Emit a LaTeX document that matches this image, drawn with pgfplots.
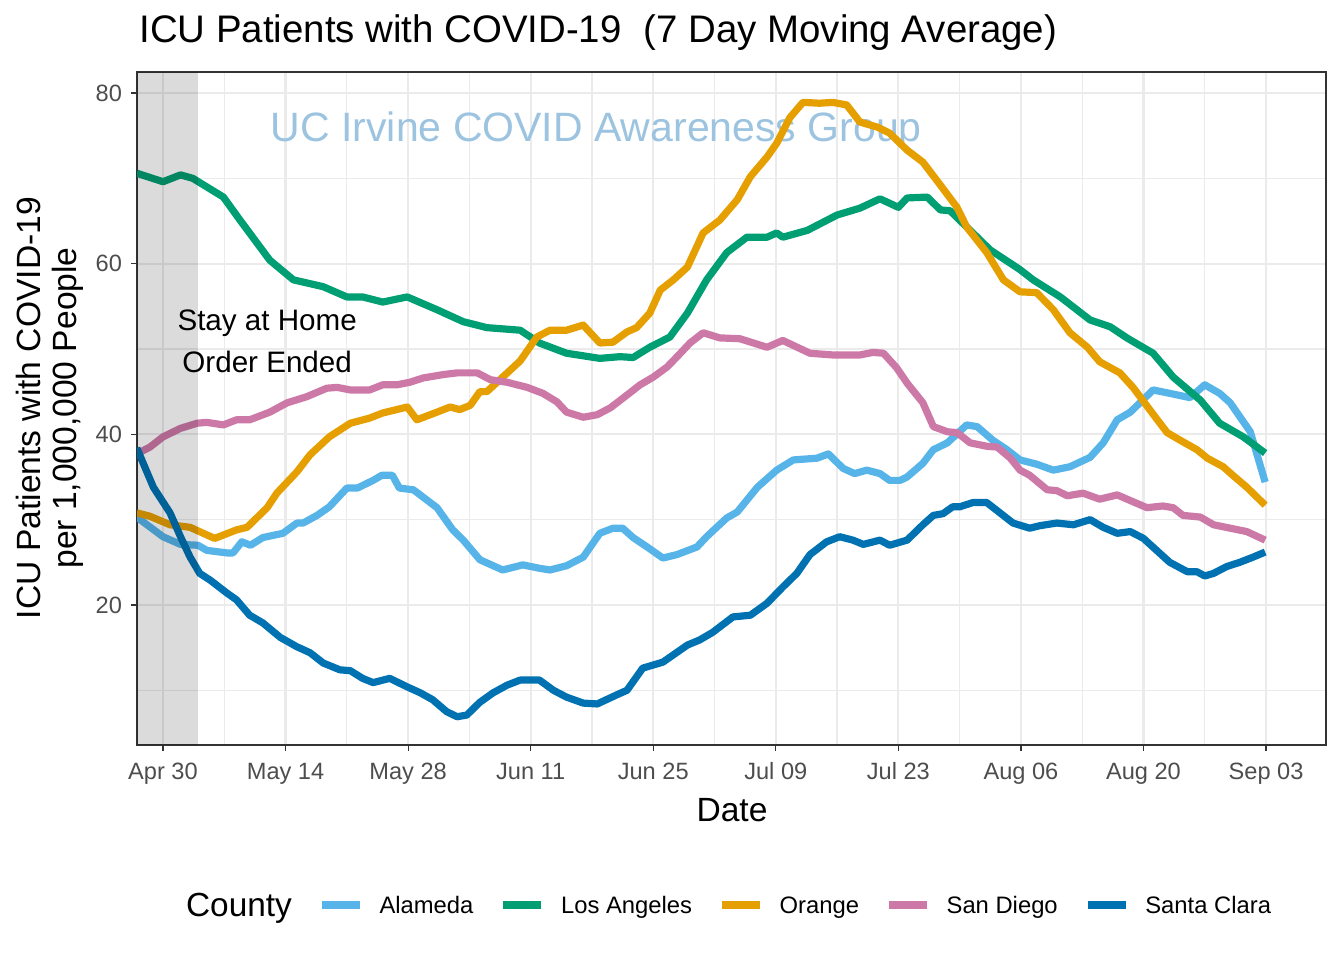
\documentclass[border=0pt]{standalone}
\usepackage{fontspec}
\setmainfont{Liberation Sans}
\usepackage{pgfplots}
\pgfplotsset{compat=1.18}
\definecolor{cAla}{HTML}{56B4E9}
\definecolor{cLA}{HTML}{009E73}
\definecolor{cOra}{HTML}{E69F00}
\definecolor{cSD}{HTML}{CC79A7}
\definecolor{cSC}{HTML}{0072B2}
\definecolor{gridc}{HTML}{EBEBEB}
\definecolor{tickc}{HTML}{4D4D4D}
\definecolor{borderc}{HTML}{333333}
\definecolor{wmark}{HTML}{9CC3DF}
\begin{document}
\begin{tikzpicture}
\path[use as bounding box] (0,0) rectangle (672pt,480pt);
\begin{axis}[
  at={(68.5pt,107.5pt)}, anchor=south west,
  scale only axis, width=594.5pt, height=336.5pt,
  xmin=-2.97, xmax=132.85, ymin=3.59, ymax=82.46,
  xtick={0,14,...,126},
  xticklabels={Apr 30,May 14,May 28,Jun 11,Jun 25,Jul 09,Jul 23,Aug 06,Aug 20,Sep 03},
  minor xtick={7,21,...,119},
  ytick={20,40,60,80},
  minor ytick={10,30,50,70},
  grid=both,
  major grid style={gridc, line width=1.1pt},
  minor grid style={gridc, line width=0.6pt},
  axis line style={borderc, line width=0.6pt},
  tick align=outside,
  major tick length=3pt, minor tick length=0pt,
  tick style={borderc, line width=0.6pt},
  xtick pos=bottom, ytick pos=left,
  /pgf/number format/assume math mode=true,
  ticklabel style={font=\fontsize{11.8}{14}\selectfont, text=tickc},
  xticklabel style={yshift=-3.5pt, text height=0.72em, text depth=0.2em},
  yticklabel style={xshift=-1pt},
  legend columns=6,
  legend style={at={(0.4925,-0.2422)}, anchor=center, draw=none, fill=none,
    font=\fontsize{11.9}{14}\selectfont,
    nodes={text height=0.75em, text depth=0.22em},
    /tikz/every odd column/.append style={column sep=6pt},
    /tikz/every even column/.append style={column sep=11.2pt}},
  legend image code/.code={\draw[#1] (0pt,1.5pt) -- (19pt,1.5pt);},
  every axis plot/.append style={line width=3.6pt, line join=round},
]
\node[text=wmark, font=\fontsize{20.5}{24}\selectfont] at (axis cs:49.5,75.6) {UC Irvine COVID Awareness Group};
\addlegendimage{empty legend}
\addlegendentry{\fontsize{16.7}{20}\selectfont\raisebox{-1.5pt}{County}\hspace{-5.5pt}}
\addplot[cAla] coordinates {
(-3,30.3) (0,28.0) (2,27.1) (4,27.0) (5,26.4) (7.3,26.1) (8,26.1) (9,27.4) (10,27.0) (11.4,27.9) (13.7,28.4) (15.3,29.6) (16,29.6) (17.6,30.5) (19,31.5) (21,33.7) (22.2,33.7) (24,34.6) (25,35.2) (26.2,35.2) (27,33.7) (28.6,33.5) (31.3,31.4) (33.1,28.8) (34.3,27.6) (36.2,25.3) (38.8,24.1) (41.1,24.7) (43,24.3) (44.2,24.1) (46.1,24.6) (48,25.6) (49.9,28.4) (51.4,29.0) (52.5,29.0) (53.7,27.9) (55.3,26.8) (57.1,25.5) (58.7,25.9) (61,26.8) (62.1,28.0) (64.4,30.2) (65.6,30.9) (67.9,33.8) (70.1,35.8) (72,37.0) (74.7,37.2) (76,37.7) (77.7,36.0) (79,35.4) (80.4,35.8) (81.9,35.4) (83,34.6) (84.2,34.6) (85,35.0) (86.8,36.6) (88,38.2) (89.6,39.0) (91.8,41.1) (93,40.9) (94.8,39.3) (96.4,38.2) (97.9,37.0) (99.8,36.5) (101.7,35.8) (103.6,36.2) (105.9,37.3) (107.4,39.0) (109,41.7) (110.5,42.6) (113.1,45.2) (115,44.8) (117.3,44.3) (119,45.8) (120.7,44.8) (121.9,43.7) (124.2,40.3) (125.9,34.4)
};
\addlegendentry{Alameda}
\addplot[cLA] coordinates {
(-3,70.6) (0,69.6) (2,70.4) (3.4,70.0) (6.9,67.8) (8.8,65.1) (12.2,60.4) (14.9,58.1) (18.3,57.3) (21,56.1) (22.8,56.1) (25.1,55.5) (27.9,56.1) (31.3,54.6) (34.3,53.2) (37,52.5) (40.8,52.2) (43,50.7) (46.1,49.5) (49.9,48.9) (52.2,49.1) (53.7,49.0) (55.6,50.2) (57.9,51.4) (59.9,54.2) (62.1,58.1) (64.4,61.3) (66.7,63.1) (69,63.1) (70.1,63.6) (70.8,63.1) (73.6,63.9) (77,65.7) (79.6,66.5) (81.9,67.6) (84,66.6) (85,67.7) (87.3,67.8) (88.8,66.3) (89.9,66.2) (91.8,64.3) (94.5,61.6) (97.9,59.3) (99.4,58.1) (102.5,56.1) (105.9,53.4) (108.2,52.6) (110.1,51.3) (113.1,49.5) (115.4,46.7) (118.5,44.0) (120.7,41.3) (123.4,39.7) (125.9,37.8)
};
\addlegendentry{Los Angeles}
\addplot[cOra] coordinates {
(-3,30.8) (-1.5,30.4) (0.8,29.4) (3.1,29.1) (5.9,27.8) (8.4,28.8) (9.6,29.1) (11.9,31.4) (13,33.1) (15.3,35.6) (16.8,37.6) (19,39.7) (21.4,41.3) (23.6,41.9) (25.1,42.5) (27.9,43.2) (29,41.7) (31.3,42.6) (32.8,43.2) (33.9,42.9) (35.1,43.4) (36.2,45.0) (37,45.0) (38.8,46.7) (40.8,48.6) (42.7,51.4) (44.2,52.2) (46.1,52.2) (48,52.8) (49.9,50.7) (51.4,50.8) (53,52.0) (54.1,52.5) (55.6,54.2) (56.8,56.9) (58.3,58.1) (59.9,59.6) (61.7,63.6) (63.6,65.1) (65.6,67.5) (67.1,70.2) (69,72.5) (70.1,74.1) (71.6,77.1) (73.1,78.9) (75,78.8) (76.5,78.9) (78.1,78.6) (79.6,76.6) (81.6,76.0) (83,75.3) (85,73.3) (86.8,71.9) (88.8,69.2) (90.7,66.6) (91.8,64.3) (94.1,61.3) (96,58.1) (97.9,56.7) (99.8,56.6) (101.7,54.6) (103.6,51.9) (105.6,50.2) (107,48.5) (109.3,47.2) (110.8,45.5) (112.7,42.9) (114.7,40.2) (116.2,39.3) (118.1,38.2) (119.3,37.2) (121.1,36.2) (122.2,35.2) (123.8,33.8) (125.9,31.7)
};
\addlegendentry{Orange}
\addplot[cSD] coordinates {
(-3,37.7) (-1.5,38.5) (0,39.7) (2,40.7) (3.9,41.3) (5,41.4) (6.9,41.1) (8.4,41.7) (9.9,41.7) (12.2,42.6) (14.2,43.7) (16.4,44.4) (18.7,45.4) (19.9,45.5) (21.4,45.2) (23.6,45.2) (25.1,45.8) (26.7,45.8) (28.2,46.1) (29.7,46.6) (32,47.0) (33.6,47.2) (35.9,47.2) (37.4,46.4) (39.3,46.1) (41.6,45.5) (43.4,44.8) (45,43.8) (46.1,42.6) (48,42.0) (49.6,42.3) (51.1,43.1) (53,44.6) (54.5,45.8) (56,46.7) (57.6,47.9) (59.1,49.5) (60.2,50.7) (61.7,51.9) (63.6,51.3) (65.9,51.2) (69,50.2) (70.8,51.0) (73.9,49.5) (76.5,49.3) (79.6,49.3) (81.1,49.6) (82.3,49.5) (83.8,47.8) (85,46.0) (86.8,43.7) (88,40.9) (89.6,40.3) (90.7,40.2) (92.2,39.0) (94.1,38.6) (95.3,38.5) (96.8,37.2) (97.9,35.8) (99,35.2) (101,33.5) (102.1,33.4) (103.3,32.8) (105.1,33.1) (107,32.4) (109,32.9) (110.8,32.1) (112.4,31.4) (114.2,31.6) (115.4,31.4) (116.5,30.5) (118.5,30.3) (120,29.4) (121.9,29.0) (123.8,28.6) (125.9,27.6)
};
\addlegendentry{San Diego}
\addplot[cSC] coordinates {
(-3,38.4) (-1.1,33.8) (0.8,30.8) (2,28.0) (3.1,25.6) (4.2,23.7) (5.4,22.9) (7.3,21.4) (8.4,20.6) (9.9,18.8) (11.4,17.9) (13.4,16.2) (15.3,15.1) (16.8,14.4) (18.3,13.2) (20.2,12.4) (21.4,12.3) (22.8,11.4) (24,10.9) (25.9,11.4) (27.9,10.4) (29.4,9.7) (30.8,8.9) (32.4,7.5) (33.6,6.9) (34.7,7.1) (36.2,8.6) (37.7,9.7) (39.3,10.6) (40.8,11.2) (43,11.2) (44.6,10.0) (46.1,9.2) (48,8.5) (49.6,8.4) (51.9,9.5) (53,10.0) (54.8,12.6) (57.1,13.3) (59.9,15.3) (61.3,15.9) (62.8,16.8) (65.1,18.6) (67.1,18.8) (69,20.2) (70.8,22.1) (72.4,23.7) (73.9,25.9) (75.8,27.4) (77.3,28.0) (78.8,27.6) (80,27.1) (81.9,27.6) (83,27.0) (85,27.6) (86.8,29.4) (88,30.5) (89.1,30.7) (90.2,31.5) (91,31.5) (92.5,32.0) (94.1,32.0) (95.6,30.8) (97.1,29.6) (99,29.0) (100.2,29.3) (102.1,29.6) (104,29.4) (105.9,30.0) (107.4,29.1) (109,28.4) (110.5,28.6) (112,27.8) (113.5,26.4) (115,25.0) (117,23.9) (118.1,23.9) (119,23.4) (120,23.7) (121.5,24.5) (123,25.0) (124.5,25.6) (125.9,26.2)
};
\addlegendentry{Santa Clara}
\fill[black, opacity=0.14] (axis cs:-2.97,3.59) rectangle (axis cs:4.0,82.46);
\node[align=center, font=\fontsize{14.8}{21}\selectfont] at (axis cs:11.9,50.9) {Stay at Home\\Order Ended};
\end{axis}
\node[anchor=base west, inner sep=0pt, font=\fontsize{19.2}{24}\selectfont] at (69.5pt,458.5pt) {ICU Patients with COVID-19\hspace{0.3em} (7 Day Moving Average)};
\node[font=\fontsize{16.8}{20}\selectfont] at (366pt,75pt) {Date};
\node[rotate=90, align=center, font=\fontsize{16.8}{18}\selectfont] at (25pt,276pt) {ICU Patients with COVID-19\\per 1,000,000 People};
\end{tikzpicture}
\end{document}
